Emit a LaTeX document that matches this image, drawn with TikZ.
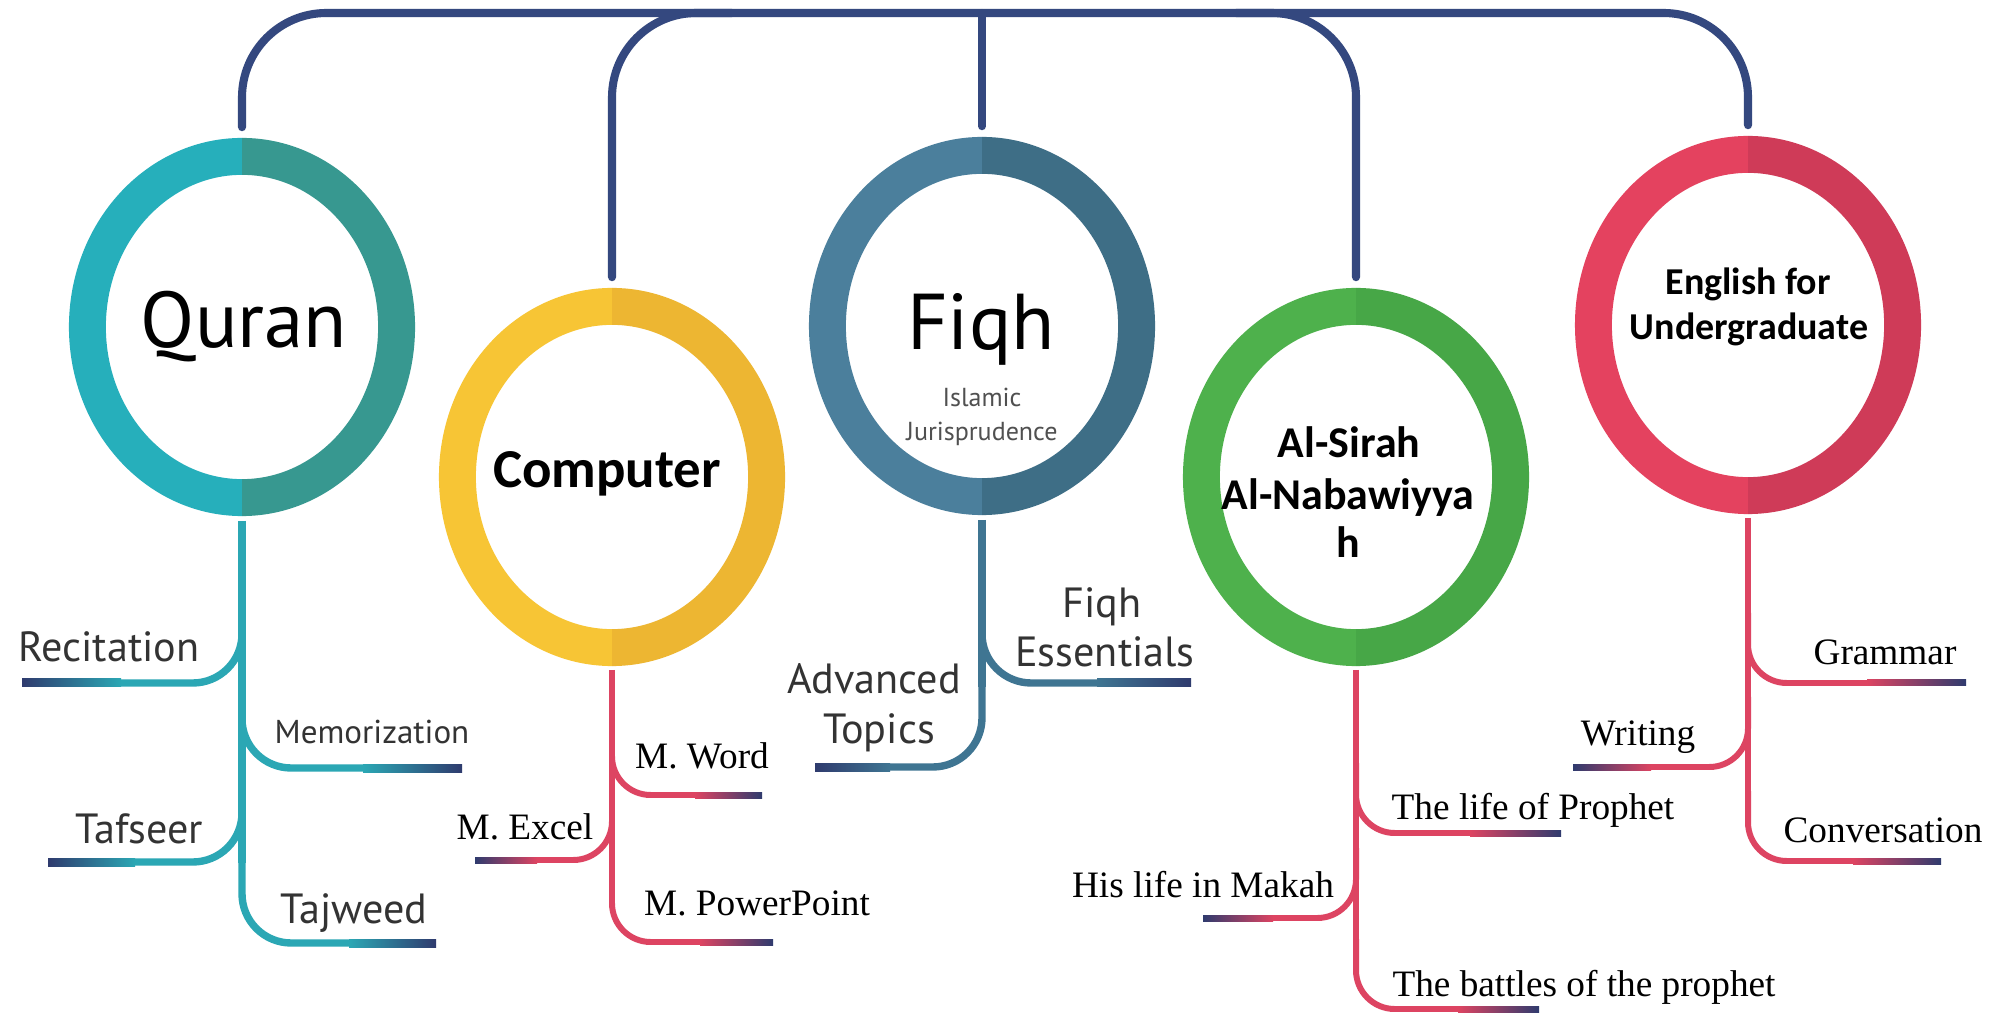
\documentclass[tikz,border=0pt]{standalone}
\usepackage{fontspec}
\setmainfont{Liberation Serif}
\newfontfamily\ptsans{PT Sans}
\newfontfamily\carlito{Carlito}
\usetikzlibrary{shapes.geometric,calc}

\definecolor{barblue}{HTML}{34487F}
\definecolor{navyend}{HTML}{2F3B6E}
\definecolor{quranL}{HTML}{26AFBB}
\definecolor{quranR}{HTML}{379890}
\definecolor{compL}{HTML}{F7C535}
\definecolor{compR}{HTML}{EDB632}
\definecolor{fiqhL}{HTML}{4B7F9C}
\definecolor{fiqhR}{HTML}{3E6E86}
\definecolor{sirahL}{HTML}{4EB14C}
\definecolor{sirahR}{HTML}{47A747}
\definecolor{engL}{HTML}{E4425F}
\definecolor{engR}{HTML}{CF3B58}
\definecolor{tealline}{HTML}{2BA7B4}
\definecolor{fiqhline}{HTML}{3F7592}
\definecolor{redline}{HTML}{DD4462}
\definecolor{labelgray}{HTML}{333333}
\definecolor{subgray}{HTML}{505050}

\tikzset{
  ringnode/.style={ellipse, minimum width=3.46cm, minimum height=3.78cm, inner sep=0pt},
  barline/.style={barblue, line width=2.3pt, line cap=round, rounded corners=24pt},
  tline/.style={tealline, line width=2.1pt, rounded corners=14pt},
  bline/.style={fiqhline, line width=2.1pt, rounded corners=14pt},
  rline/.style={redline, line width=1.7pt, rounded corners=11pt},
  bigtitle/.style={font=\ptsans\fontsize{22.5}{26}\selectfont, anchor=base, inner sep=0pt},
  boldtitle/.style={font=\carlito\bfseries\fontsize{12.5}{14}\selectfont, anchor=base, inner sep=0pt},
  sanslabel/.style={font=\ptsans\fontsize{12}{14}\selectfont, text=labelgray, anchor=base, inner sep=0pt},
  seriflabel/.style={font=\fontsize{10.6}{12}\selectfont, anchor=base, inner sep=0pt},
}

% two-tone ring round a node
\newcommand{\ringpair}[3]{%
  \begin{scope}
    \clip (#1.center) ++(-200,-200) rectangle ++(200,400);
    \draw[line width=10.5pt, #2] (#1.center) ellipse [x radius=1.545cm, y radius=1.705cm];
  \end{scope}
  \begin{scope}
    \clip (#1.center) ++(0,-200) rectangle ++(200,400);
    \draw[line width=10.5pt, #3] (#1.center) ellipse [x radius=1.545cm, y radius=1.705cm];
  \end{scope}}

% dark ends of the branches
\newcommand{\faderight}[4]{\shade[left color=#1, right color=navyend] ($(#2)+(0,-#4)$) rectangle ($(#3)+(0,#4)$);}
\newcommand{\fadeleft}[4]{\shade[left color=navyend, right color=#1] ($(#3)+(0,-#4)$) rectangle ($(#2)+(0,#4)$);}

\begin{document}
\begin{tikzpicture}[x=0.01cm, y=-0.01cm]
    \useasboundingbox (0,0) rectangle (2000,1016);
    \fill[white] (0,0) rectangle (2000,1016);

    % Rings
    \node[ringnode] (quran) at (242,327) {};
    \node[ringnode] (computer) at (612,477) {};
    \node[ringnode] (fiqh) at (982,326) {};
    \node[ringnode] (sirah) at (1356,477) {};
    \node[ringnode] (english) at (1748,325) {};
    \ringpair{quran}{quranL}{quranR}
    \ringpair{computer}{compL}{compR}
    \ringpair{fiqh}{fiqhL}{fiqhR}
    \ringpair{sirah}{sirahL}{sirahR}
    \ringpair{english}{engL}{engR}

    % Ring titles
    \node[bigtitle] (quran-t) at (244,348) {Quran};
    \node[bigtitle] (fiqh-t) at (981,350) {Fiqh};
    \node[font=\ptsans\fontsize{7.4}{9}\selectfont, text=subgray, anchor=base] (fiqh-s1) at (982,407) {Islamic};
    \node[font=\ptsans\fontsize{7.4}{9}\selectfont, text=subgray, anchor=base] (fiqh-s2) at (982,441) {Jurisprudence};
    \node[boldtitle, font=\carlito\bfseries\fontsize{15.6}{18}\selectfont] (comp-t) at (607,488) {Computer};
    \node[boldtitle] (sirah-t1) at (1349,458) {Al-Sirah};
    \node[boldtitle] (sirah-t2) at (1348,510) {Al-Nabawiyya};
    \node[boldtitle] (sirah-t3) at (1348,558) {h};
    \node[boldtitle, font=\carlito\bfseries\fontsize{10.8}{13}\selectfont] (english-t1) at (1748,295) {English for};
    \node[boldtitle, font=\carlito\bfseries\fontsize{10.8}{13}\selectfont] (english-t2) at (1749,340) {Undergraduate};

    % Top bar
    \coordinate (bar-l) at (242,13);
    \coordinate (bar-r) at (1748,13);
    \draw[barline] ($(quran.north)+(0,-10)$) -- (bar-l) -- (bar-r) -- ($(english.north)+(0,-10)$);
    \draw[barline] ($(fiqh.north)+(0,-10)$) -- (fiqh.north |- bar-l);
    \draw[barline] ($(computer.north)+(0,-10)$) -- (computer.north |- bar-l) -- ++(120,0);
    \draw[barline] ($(sirah.north)+(0,-10)$) -- (sirah.north |- bar-l) -- ++(-120,0);

    % Quran branches
    \coordinate (rec-m) at (121,683);  \coordinate (rec-e) at (22,683);
    \coordinate (mem-m) at (363,768);  \coordinate (mem-e) at (462,768);
    \coordinate (taf-m) at (135,862);  \coordinate (taf-e) at (48,862);
    \coordinate (taj-m) at (349,943);  \coordinate (taj-e) at (436,943);
    \draw[tline] ($(quran.south)+(0,4)$) -- ($(quran.south |- taj-m)+(0,-80)$);
    \foreach \m in {rec-m,mem-m,taf-m,taj-m}
        \draw[tline] ($(quran.south |- \m)+(0,-80)$) |- (\m);
    \fadeleft{tealline}{rec-m}{rec-e}{4}
    \faderight{tealline}{mem-m}{mem-e}{4}
    \fadeleft{tealline}{taf-m}{taf-e}{4}
    \faderight{tealline}{taj-m}{taj-e}{4}
    \node[sanslabel] (rec) at (109,662) {Recitation};
    \node[sanslabel, font=\ptsans\fontsize{9.4}{11}\selectfont] (mem) at (372,743) {Memorization};
    \node[sanslabel] (taf) at (139,843) {Tafseer};
    \node[sanslabel] (taj) at (354,923) {Tajweed};

    % Computer branches
    \coordinate (word-m) at (695,795);  \coordinate (word-e) at (762,795);
    \coordinate (excel-m) at (537,860); \coordinate (excel-e) at (475,860);
    \coordinate (ppt-m) at (700,942);   \coordinate (ppt-e) at (773,942);
    \draw[rline] ($(computer.south)+(0,3)$) -- ($(computer.south |- ppt-m)+(0,-70)$);
    \foreach \m in {word-m,excel-m,ppt-m}
        \draw[rline] ($(computer.south |- \m)+(0,-70)$) |- (\m);
    \faderight{redline}{word-m}{word-e}{3}
    \fadeleft{redline}{excel-m}{excel-e}{3}
    \faderight{redline}{ppt-m}{ppt-e}{3}
    \node[seriflabel] (word) at (702,768) {M. Word};
    \node[seriflabel] (excel) at (525,840) {M. Excel};
    \node[seriflabel] (ppt) at (757,915) {M. PowerPoint};

    % Fiqh branches
    \coordinate (ess-m) at (1097,683);  \coordinate (ess-e) at (1191,683);
    \coordinate (adv-m) at (890,767);   \coordinate (adv-e) at (815,767);
    \draw[bline] ($(fiqh.south)+(0,4)$) -- ($(fiqh.south |- adv-m)+(0,-80)$);
    \foreach \m in {ess-m,adv-m}
        \draw[bline] ($(fiqh.south |- \m)+(0,-80)$) |- (\m);
    \faderight{fiqhline}{ess-m}{ess-e}{4}
    \fadeleft{fiqhline}{adv-m}{adv-e}{4}
    \node[sanslabel] (ess1) at (1102,618) {Fiqh};
    \node[sanslabel] (ess2) at (1105,667) {Essentials};
    \node[sanslabel] (adv1) at (874,693) {Advanced};
    \node[sanslabel] (adv2) at (879,743) {Topics};

    % Al-Sirah branches
    \coordinate (life-m) at (1470,833);    \coordinate (life-e) at (1561,833);
    \coordinate (makah-m) at (1273,918);   \coordinate (makah-e) at (1203,918);
    \coordinate (battle-m) at (1458,1009); \coordinate (battle-e) at (1539,1009);
    \draw[rline] ($(sirah.south)+(0,3)$) -- ($(sirah.south |- battle-m)+(0,-70)$);
    \foreach \m in {life-m,makah-m,battle-m}
        \draw[rline] ($(sirah.south |- \m)+(0,-70)$) |- (\m);
    \faderight{redline}{life-m}{life-e}{3}
    \fadeleft{redline}{makah-m}{makah-e}{3}
    \faderight{redline}{battle-m}{battle-e}{3}
    \node[seriflabel] (life) at (1533,820) {The life of Prophet};
    \node[seriflabel] (makah) at (1203,897) {His life in Makah};
    \node[seriflabel] (battle) at (1584,996) {The battles of the prophet};

    % English branches
    \coordinate (gram-m) at (1867,683);  \coordinate (gram-e) at (1966,683);
    \coordinate (writ-m) at (1651,767);  \coordinate (writ-e) at (1573,767);
    \coordinate (conv-m) at (1853,861);  \coordinate (conv-e) at (1941,861);
    \draw[rline] ($(english.south)+(0,3)$) -- ($(english.south |- conv-m)+(0,-70)$);
    \foreach \m in {gram-m,writ-m,conv-m}
        \draw[rline] ($(english.south |- \m)+(0,-70)$) |- (\m);
    \faderight{redline}{gram-m}{gram-e}{3}
    \fadeleft{redline}{writ-m}{writ-e}{3}
    \faderight{redline}{conv-m}{conv-e}{3}
    \node[seriflabel] (gram) at (1885,665) {Grammar};
    \node[seriflabel] (writ) at (1638,745) {Writing};
    \node[seriflabel] (conv) at (1883,842) {Conversation};
\end{tikzpicture}
\end{document}
